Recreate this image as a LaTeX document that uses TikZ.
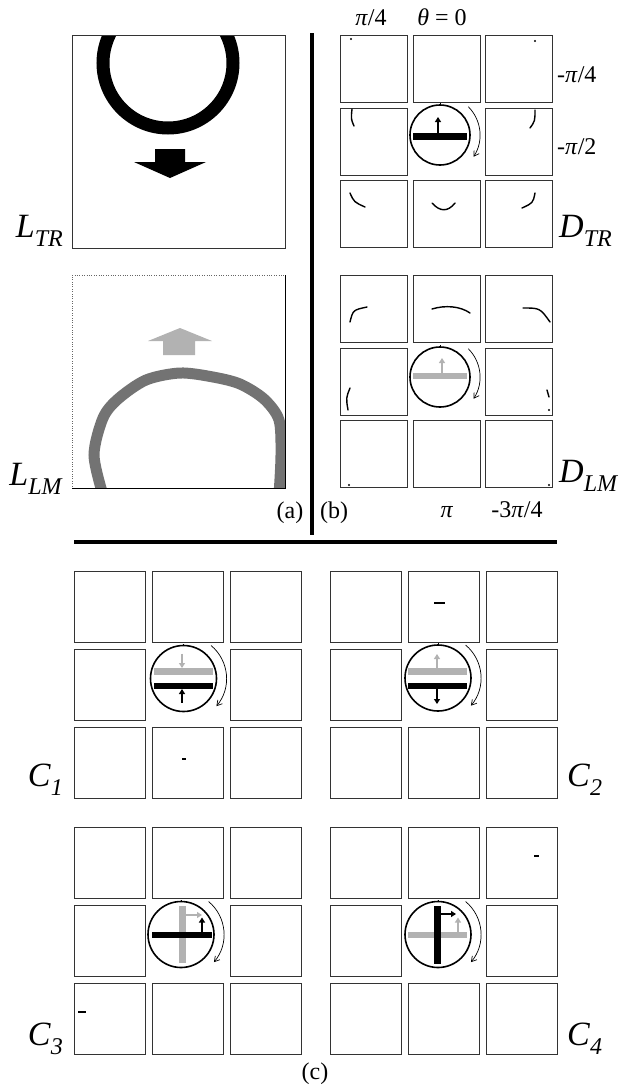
\documentclass[tikz,border=0pt]{standalone}
\usepackage{fontspec}
\setmainfont{Liberation Serif}
\usetikzlibrary{arrows.meta}

% big italic label with a lowered subscript
\newcommand{\biglabel}[2]{\fontsize{34}{34}\selectfont\textit{#1}\raisebox{-9pt}{\fontsize{24}{24}\selectfont\textit{#2}}}

% 3x3 grid of cells, the middle one left out
\newcommand{\cellgrid}[5]{% name, left, top, size, pitch
  \foreach \r/\c in {0/0,0/1,0/2,1/0,1/2,2/0,2/1,2/2}
    \node[cell=#4] (#1-\r\c) at ({#2+\c*#5},{#3+\r*#5}) {};}

% dial ring with the turning arrow
\newcommand{\dialring}[4]{% radius, turn radius, start, end
  \draw[line width=1.6pt] (0,0) circle[radius=#1];
  \draw[line width=1pt] (0,-#1) -- (0,-#1-2);
  \draw[turn] (#3:#2) arc[start angle=#3, end angle=#4, radius=#2];}

\tikzset{
  cell/.style={draw=black!80, line width=1pt, minimum size=#1, inner sep=0pt, anchor=north west},
  tag/.style={inner sep=0pt},
  small/.style={inner sep=0pt, anchor=base, font=\fontsize{24}{24}\selectfont},
  turn/.style={line width=0.7pt, -{Straight Barb[length=5pt,width=6pt]}},
  ptr/.style={line width=1.5pt, -{Triangle[length=5pt,width=6pt]}},
  barblk/.style={fill=black},
  bargry/.style={fill=black!30},
  trace/.style={line width=1.4pt, line cap=round},
}

\begin{document}
\begin{tikzpicture}[x=1pt, y=-1pt]
    \useasboundingbox (0,0) rectangle (623,1090);

    % Panel (a): L_TR
    \begin{scope}
      \clip (72,35) rectangle (285,248);
      \draw[line width=13pt] (168,63) circle[radius=65];
    \end{scope}
    \node[cell=213pt] (ltr) at (72,35) {};
    \fill (155,149) -- (185,149) -- (185,162) -- (206,162) -- (170,178) -- (134,162) -- (155,162) -- cycle;
    \node[tag, anchor=base east] (ltr-lab) at (63,237) {\biglabel{L}{TR}};

    % Panel (a): L_LM
    \begin{scope}
      \clip (72,275) rectangle (285,488);
      \draw[line width=11pt, black!55] plot[smooth] coordinates {(103,495) (94,455) (103,418) (118,399) (146,380) (180,373) (213,377) (240,384) (264,399) (279,420) (281,455) (279,495)};
    \end{scope}
    \node[tag, minimum size=213pt, anchor=north west] (llm) at (72,275) {};
    \draw[dotted, black!60] (llm.south west) |- (llm.north east);
    \draw[line width=1pt] (llm.south west) -| (llm.north east);
    \fill[black!30] (163,355) -- (163,341) -- (148,341) -- (180,328) -- (212,341) -- (195,341) -- (195,355) -- cycle;
    \node[tag, anchor=base east] (llm-lab) at (63,485) {\biglabel{L}{LM}};
    \node[small] (a-lab) at (290,518) {(a)};

    % Divider lines
    \draw[line width=3.5pt] (312,33) -- (312,535);
    \draw[line width=3.5pt] (74,542) -- (557,542);

    % Panel (b): D_TR
    \cellgrid{dtr}{340}{35}{67pt}{72.5}
    \begin{scope}[shift={(440,135)}]
      \fill[barblk] (-27,-2) rectangle (27,5);
      \draw[ptr] (-2,-2) -- (-2,-18);
      \dialring{30}{40}{-45}{33}
    \end{scope}
    \fill (351,39) circle[radius=1.2];
    \fill (535,41) circle[radius=1.2];
    \draw[trace] (352,109) .. controls (351,119) .. (354,126);
    \draw[trace] (535,110) .. controls (535,121) .. (530,128);
    \draw[trace] (350,193) .. controls (354,202) .. (365,207);
    \draw[trace] (432,203) .. controls (440,212) and (448,212) .. (455,203);
    \draw[trace] (535,193) .. controls (533,203) .. (522,208);
    \node[small] (pi4) at (371,25) {\textit{π}/4};
    \node[small] (theta0) at (442,25) {\textit{θ} = 0};
    \node[small, anchor=base west] (mpi4) at (557,82) {-\textit{π}/4};
    \node[small, anchor=base west] (mpi2) at (557,154) {-\textit{π}/2};
    \node[tag, anchor=base west] (dtr-lab) at (559,237) {\biglabel{D}{TR}};

    % Panel (b): D_LM
    \cellgrid{dlm}{340}{275}{67pt}{72.5}
    \begin{scope}[shift={(440,377)}]
      \fill[bargry] (-27,-4) rectangle (27,2);
      \draw[ptr, black!30] (2,-4) -- (2,-19);
      \dialring{30}{40}{-45}{33}
    \end{scope}
    \draw[trace] (350,322) .. controls (353,310) .. (367,307);
    \draw[trace] (432,309) .. controls (445,305) and (460,306) .. (470,313);
    \draw[trace] (523,308) .. controls (540,308) .. (550,322);
    \draw[trace] (350,388) .. controls (346,398) .. (348,410);
    \draw[trace] (547,390) -- (549,397);
    \fill (549,410) circle[radius=1.2];
    \fill (349,485) circle[radius=1.2];
    \fill (549,485) circle[radius=1.2];
    \node[small] (pi) at (447,517) {\textit{π}};
    \node[small] (m3pi4) at (517,517) {-3\textit{π}/4};
    \node[tag, anchor=base west] (dlm-lab) at (559,482) {\biglabel{D}{LM}};
    \node[small] (b-lab) at (334,518) {(b)};

    % Panel (c): C_1
    \cellgrid{cone}{74}{571}{71pt}{78}
    \begin{scope}[shift={(183.5,678.5)}]
      \fill[bargry] (-30,-10.5) rectangle (29,-3.5);
      \fill[barblk] (-30,4.5) rectangle (29,10.5);
      \draw[ptr, black!30] (-1.5,-25) -- (-1.5,-10.5);
      \draw[ptr] (-1.5,24) -- (-1.5,10.5);
      \dialring{33}{43}{-50}{40}
    \end{scope}
    \draw[line width=1.5pt] (182,759) -- (186,759);
    \node[tag, anchor=base east] (cone-lab) at (63,786) {\biglabel{C}{1}};

    % Panel (c): C_2
    \cellgrid{ctwo}{330}{571}{71pt}{78}
    \begin{scope}[shift={(438,678)}]
      \fill[bargry] (-30,-10) rectangle (29,-3);
      \fill[barblk] (-30,5) rectangle (29,11);
      \draw[ptr, black!30] (-1,-10) -- (-1,-24);
      \draw[ptr] (-1,11) -- (-1,26);
      \dialring{33}{43}{-50}{40}
    \end{scope}
    \draw[line width=2pt] (434,603) -- (445,603);
    \node[tag, anchor=base west] (ctwo-lab) at (567,786) {\biglabel{C}{2}};

    % Panel (c): C_3
    \cellgrid{cthree}{74}{827}{71pt}{78}
    \begin{scope}[shift={(181,934.5)}]
      \fill[bargry] (-2,-28.5) rectangle (5,28.5);
      \fill[barblk] (-29,-2.5) rectangle (31,3.5);
      \draw[ptr, black!30] (5,-19.5) -- (21,-19.5);
      \draw[ptr] (21,-2.5) -- (21,-17);
      \dialring{33}{43}{-50}{40}
    \end{scope}
    \draw[line width=2.5pt] (78,1012) -- (86,1012);
    \node[tag, anchor=base east] (cthree-lab) at (63,1045) {\biglabel{C}{3}};

    % Panel (c): C_4
    \cellgrid{cfour}{330}{827}{71pt}{78}
    \begin{scope}[shift={(438,934.5)}]
      \fill[bargry] (-30,-2.5) rectangle (29,3.5);
      \fill[barblk] (-4,-28.5) rectangle (3,29.5);
      \draw[ptr] (3,-20.5) -- (18,-20.5);
      \draw[ptr, black!30] (20,-2.5) -- (20,-17);
      \dialring{33}{43}{-50}{40}
    \end{scope}
    \draw[line width=2pt] (534,856) -- (539,856);
    \node[tag, anchor=base west] (cfour-lab) at (567,1045) {\biglabel{C}{4}};
    \node[small] (c-lab) at (315,1079) {(c)};
\end{tikzpicture}
\end{document}
